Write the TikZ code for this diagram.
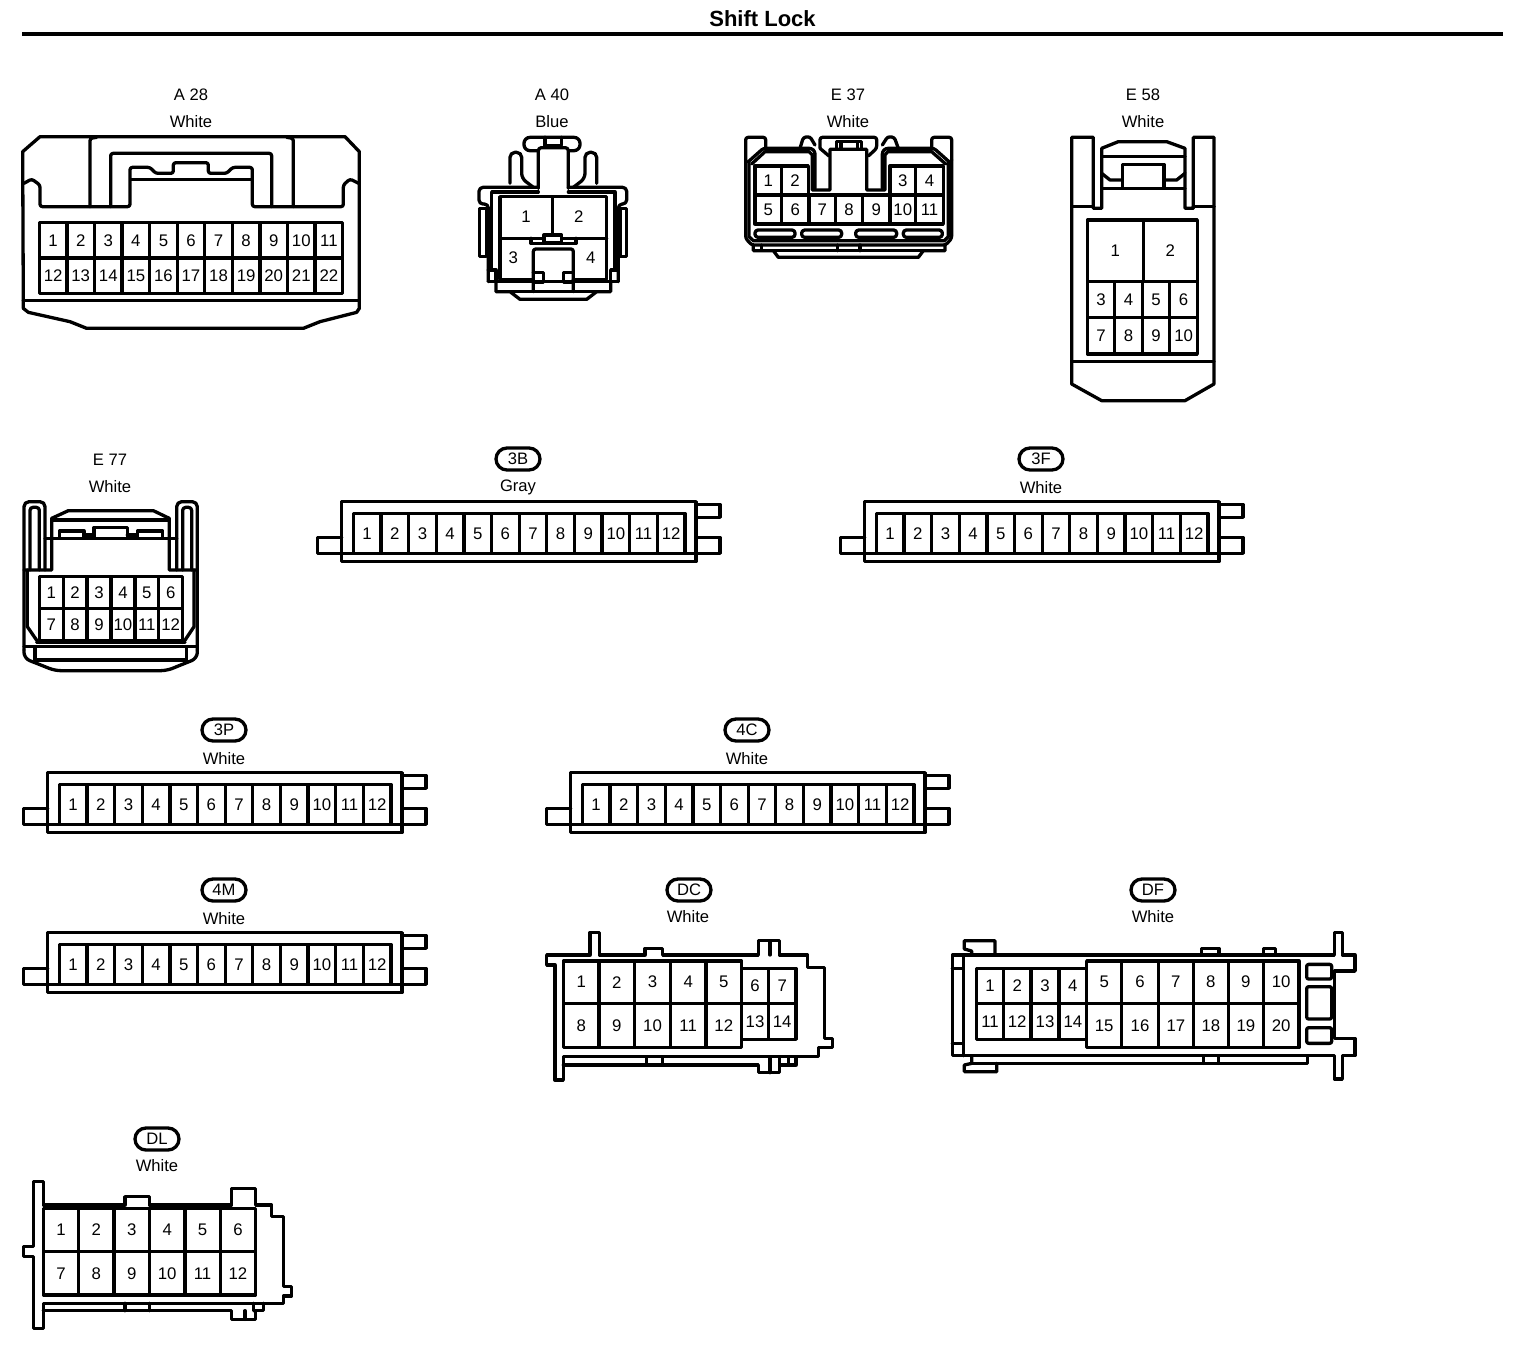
\documentclass[tikz,border=0pt]{standalone}
\usepackage{fontspec}
\setmainfont{Liberation Sans}
\usetikzlibrary{calc,shapes.misc}
\tikzset{
  wire/.style={line width=1.65pt,line join=round,line cap=round},
  soft/.style={wire,rounded corners=1.2pt},
  pinnum/.style={inner sep=0pt,font=\fontsize{8.4}{10}\selectfont},
  lbl/.style={inner sep=0pt,font=\fontsize{8.3}{10}\selectfont},
  pill/.style={draw,rounded rectangle,line width=1.65pt,minimum width=22pt,minimum height=11pt,inner sep=0pt,font=\fontsize{8.3}{10}\selectfont},
}
\newcommand{\pinbox}[6]{%
  \draw[wire] (#2,#3) rectangle (#4,#5);
  \node[pinnum] (#1) at ($(#2,#3)!.5!(#4,#5)$) {#6};}
\newcommand{\pingrid}[8]{%
  \foreach \r in {1,...,#7}{\foreach \c in {1,...,#6}{%
    \pgfmathsetmacro\xa{#2+(\c-1)*(#4-#2)/#6}%
    \pgfmathsetmacro\xb{#2+\c*(#4-#2)/#6}%
    \pgfmathsetmacro\ya{#3+(\r-1)*(#5-#3)/#7}%
    \pgfmathsetmacro\yb{#3+\r*(#5-#3)/#7}%
    \pgfmathtruncatemacro\nn{#8+(\r-1)*#6+\c-1}%
    \pinbox{#1-\nn}{\xa}{\ya}{\xb}{\yb}{\nn}}}}
\newcommand{\twelveway}[5]{%
  \node[pill] (#1-code) at (#2+518,#3+459) {#4};
  \node[lbl] (#1-colour) at (#2+518,#3+487.5) {#5};
  \begin{scope}[shift={(#2+310,#3+445)},scale=1/3]
    \draw[wire] (95,170) rectangle (1158,350);
    \draw[wire] (1158,178)--(1230,178)--(1230,217)--(1158,217);
    \draw[wire] (1158,277)--(1230,277)--(1230,325)--(1125,325);
    \draw[wire] (95,277)--(22,277)--(22,325)--(130,325);
    \pingrid{#1}{130}{205}{1125}{325}{12}{1}{1}
  \end{scope}}
\begin{document}
\begin{tikzpicture}[x=0.5pt,y=-0.5pt]
\useasboundingbox (0,0) rectangle (1536,1346);
\fill[white] (0,0) rectangle (1536,1346);
\node[inner sep=0pt,font=\fontsize{11}{13}\selectfont\bfseries] (title) at (762.5,19) {Shift Lock};
\draw[line width=2.2pt] (22,34)--(1503,34);

% A28
\node[lbl] (A28-code) at (191,95) {A 28};
\node[lbl] (A28-colour) at (191,122) {White};
\begin{scope}[shift={(10,80)},scale=1/3]
  \draw[wire] (38,215)--(90,170)--(1005,170)--(1048,215)--(1048,685)--(1040,697)--(930,725)--(880,745)--(230,745)--(180,725)--(55,697)--(40,685)--cycle;
  \draw[wire] (40,662)--(1048,662);
  \draw[soft] (42,310)--(65,297)--(90,315)--(90,380)--(360,380)--(360,262)--(420,262)--(437,280)--(490,280)--(490,248)--(595,248)--(595,280)--(650,280)--(668,262)--(727,262)--(727,380)--(1000,380)--(1000,315)--(1020,297)--(1046,310);
  \draw[wire] (362,298)--(727,298);
  \draw[soft] (240,380)--(240,175)--(260,172);
  \draw[soft] (850,380)--(850,175)--(830,172);
  \draw[soft] (302,380)--(302,220)--(785,220)--(785,380);
  \pingrid{A28}{88}{428}{998}{640}{11}{2}{1}
\end{scope}

% A40
\node[lbl] (A40-code) at (552,95) {A 40};
\node[lbl] (A40-colour) at (552,122) {Blue};
\begin{scope}[shift={(470,80)},scale=1/3]
  \draw[wire,rounded corners=3pt] (162,172) rectangle (330,212);
  \draw[wire] (225,172)--(225,197)--(275,197)--(275,172);
  \draw[wire,fill=white,rounded corners=1.5pt] (205,325)--(205,203)--(295,203)--(295,325);
  \draw[wire,rounded corners=2.5pt] (120,310)--(120,217)--(155,217)--(155,295)--(190,322);
  \draw[wire,rounded corners=2.5pt] (380,310)--(380,217)--(345,217)--(345,295)--(310,322);
  \draw[wire,rounded corners=2pt] (205,322)--(27,322)--(27,372)--(55,372)--(55,605);
  \draw[wire,rounded corners=2pt] (295,322)--(470,322)--(470,372)--(445,372)--(445,605);
  \draw[wire] (205,336)--(65,336)--(65,570);
  \draw[wire] (295,336)--(435,336)--(435,570);
  \draw[wire] (28,385)--(50,385)--(50,530)--(28,530)--cycle;
  \draw[wire] (450,385)--(470,385)--(470,530)--(450,530)--cycle;
  \draw[wire] (55,570)--(78,570)--(78,605);
  \draw[wire] (445,570)--(422,570)--(422,605);
  \draw[wire] (90,475)--(90,350)--(410,350)--(410,475);
  \draw[wire] (247,350)--(247,465);
  \draw[wire] (90,475)--(222,475);
  \draw[wire] (275,475)--(410,475);
  \draw[wire] (222,465) rectangle (275,488);
  \draw[wire] (183,490)--(318,490);
  \node[pinnum] (A40-1) at (168,410) {1};
  \node[pinnum] (A40-2) at (326,410) {2};
  \node[pinnum] (A40-3) at (130,534) {3};
  \node[pinnum] (A40-4) at (362,534) {4};
  \draw[wire] (183,475)--(183,490);
  \draw[wire] (318,475)--(318,490);
  \draw[wire] (90,475)--(90,598)--(190,598);
  \draw[wire] (410,475)--(410,598)--(310,598);
  \draw[soft] (190,635)--(190,507)--(310,507)--(310,635);
  \draw[wire] (190,578)--(220,578)--(220,608)--(190,608);
  \draw[wire] (310,578)--(280,578)--(280,608)--(310,608);
  \draw[wire] (55,605)--(445,605);
  \draw[wire] (78,605)--(78,635)--(120,635)--(150,658)--(350,658)--(380,635)--(422,635)--(422,605);
  \draw[wire] (80,635)--(420,635);
\end{scope}

% E37
\node[lbl] (E37-code) at (848,95) {E 37};
\node[lbl] (E37-colour) at (848,122) {White};
\begin{scope}[shift={(735,80)},scale=1/3]
  \draw[soft] (32,240)--(32,172)--(92,172)--(92,205);
  \draw[soft] (650,240)--(650,172)--(590,172)--(590,205);
  \draw[soft] (40,245)--(85,205)--(230,205)--(240,215)--(240,325);
  \draw[soft] (642,245)--(597,205)--(452,205)--(442,215)--(442,325);
  \draw[wire] (50,252)--(90,215)--(222,215)--(232,225)--(232,330)--(285,330)--(285,208)--(395,208)--(395,330)--(450,330)--(450,225)--(458,215)--(590,215)--(632,252);
  \draw[soft] (32,240)--(32,475)--(50,495)--(632,495)--(650,475)--(650,240);
  \draw[wire] (42,245)--(42,470)--(55,482)--(628,482)--(640,470)--(640,245);
  \draw[soft] (195,205)--(205,172)--(225,170)--(240,195);
  \draw[soft] (490,205)--(478,172)--(458,170)--(442,195);
  \draw[soft] (255,205)--(255,172)--(425,172)--(425,205)--(400,228);
  \draw[wire] (255,205)--(282,228);
  \draw[wire] (305,208)--(305,185)--(380,185)--(380,208);
  \draw[wire] (318,185)--(318,205);
  \draw[wire] (367,185)--(367,205);
  \pinbox{E37-1}{60}{258}{140}{345}{1}
  \pinbox{E37-2}{140}{258}{220}{345}{2}
  \pinbox{E37-3}{465}{258}{542}{345}{3}
  \pinbox{E37-4}{542}{258}{625}{345}{4}
  \pinbox{E37-5}{60}{345}{140}{432}{5}
  \pinbox{E37-6}{140}{345}{222}{432}{6}
  \pinbox{E37-7}{222}{345}{302}{432}{7}
  \pinbox{E37-8}{302}{345}{382}{432}{8}
  \pinbox{E37-9}{382}{345}{465}{432}{9}
  \pinbox{E37-10}{465}{345}{542}{432}{10}
  \pinbox{E37-11}{542}{345}{625}{432}{11}
  \draw[wire,rounded corners=1.5pt] (60,450) rectangle (180,472);
  \draw[wire,rounded corners=1.5pt] (200,450) rectangle (320,472);
  \draw[wire,rounded corners=1.5pt] (362,450) rectangle (485,472);
  \draw[wire,rounded corners=1.5pt] (505,450) rectangle (622,472);
  \draw[wire] (55,495)--(55,512)--(115,512)--(130,532)--(550,532)--(565,512)--(630,512)--(630,495);
  \draw[wire] (80,495)--(80,512)--(565,512);
  \draw[wire] (308,495)--(308,512);
  \draw[wire] (375,495)--(375,512);
\end{scope}

% E58
\node[lbl] (E58-code) at (1143,95) {E 58};
\node[lbl] (E58-colour) at (1143,122) {White};
\begin{scope}[shift={(1060,80)},scale=1/3]
  \draw[wire] (35,380)--(35,172)--(100,172)--(100,385)--(125,385)--(125,205)--(175,185)--(320,185)--(375,205)--(375,385)--(400,385)--(400,172)--(462,172)--(462,380);
  \draw[wire] (35,380)--(100,380);
  \draw[wire] (400,380)--(462,380);
  \draw[wire] (35,380)--(35,912)--(125,962)--(375,962)--(462,912)--(462,380);
  \draw[wire] (35,845)--(462,845);
  \draw[wire] (125,230)--(375,230);
  \draw[wire] (125,325)--(375,325);
  \draw[wire] (187,325)--(187,253)--(312,253)--(312,325);
  \draw[wire] (125,280)--(150,300)--(187,300);
  \draw[wire] (375,280)--(350,300)--(312,300);
  \pinbox{E58-1}{82}{420}{250}{605}{1}
  \pinbox{E58-2}{250}{420}{412}{605}{2}
  \pingrid{E58}{82}{605}{412}{822}{4}{2}{3}
\end{scope}

% E77
\node[lbl] (E77-code) at (110,460) {E 77};
\node[lbl] (E77-colour) at (110,487) {White};
\begin{scope}[shift={(10,450)},scale=1/3]
  \draw[wire,rounded corners=2.5pt] (42,600)--(42,155)--(105,155)--(105,360);
  \draw[wire,rounded corners=2.5pt] (562,600)--(562,155)--(500,155)--(500,360);
  \draw[wire,rounded corners=1.5pt] (60,360)--(60,172)--(88,172)--(88,360);
  \draw[wire,rounded corners=1.5pt] (545,360)--(545,172)--(518,172)--(518,360);
  \draw[wire] (42,360)--(125,360)--(125,205)--(175,182)--(430,182)--(478,205)--(478,360)--(562,360);
  \draw[wire] (125,210)--(478,210);
  \draw[wire] (105,265)--(500,265);
  \draw[wire] (148,265)--(148,243)--(222,243)--(222,265);
  \draw[wire] (222,255)--(252,255);
  \draw[wire] (252,265)--(252,232)--(352,232)--(352,265);
  \draw[wire] (352,255)--(382,255);
  \draw[wire] (382,265)--(382,243)--(458,243)--(458,265);
  \draw[wire] (52,360)--(52,530)--(85,578);
  \draw[wire] (552,360)--(552,530)--(520,578);
  \draw[wire] (80,578)--(525,578);
  \pingrid{E77}{88}{380}{518}{572}{6}{2}{1}
  \draw[wire] (42,590)--(562,590);
  \draw[wire] (75,590)--(75,630)--(530,630)--(530,590);
  \draw[wire,rounded corners=3pt] (42,600)--(42,625)--(135,662)--(470,662)--(562,625)--(562,600);
\end{scope}

% 12-way connectors
\twelveway{3B}{0}{0}{3B}{Gray}
\twelveway{3F}{523}{0}{3F}{White}
\twelveway{3P}{-294}{271}{3P}{White}
\twelveway{4C}{229}{271}{4C}{White}
\twelveway{4M}{-294}{431}{4M}{White}

% DC
\node[pill] (DC-code) at (689,890) {DC};
\node[lbl] (DC-colour) at (688,917) {White};
\begin{scope}[shift={(540,875)},scale=1/3]
  \draw[wire] (20,270)--(20,240)--(150,240)--(150,172)--(178,172)--(178,240)--(315,240)--(315,220)--(368,220)--(368,240)--(655,240)--(655,197)--(718,197)--(718,240)--(803,240)--(803,278)--(853,278)--(853,490)--(877,490)--(877,518)--(835,518)--(835,545)--(70,545)--(70,615)--(45,615)--(45,270)--cycle;
  \draw[wire] (690,197)--(690,240);
  \draw[wire] (70,570)--(655,570)--(655,593)--(718,593)--(718,570)--(768,570)--(768,545);
  \draw[wire] (690,545)--(690,593);
  \draw[wire] (718,545)--(718,570);
  \draw[wire] (745,545)--(745,570);
  \draw[wire] (320,545)--(320,570);
  \draw[wire] (368,545)--(368,570);
  \pinbox{DC-6}{605}{280}{685}{385}{6}
  \pinbox{DC-7}{685}{280}{768}{385}{7}
  \pinbox{DC-13}{605}{385}{685}{493}{13}
  \pinbox{DC-14}{685}{385}{768}{493}{14}
  \pingrid{DC}{70}{258}{605}{385}{5}{1}{1}
  \pinbox{DC-8}{70}{385}{177}{518}{8}
  \pinbox{DC-9}{177}{385}{284}{518}{9}
  \pinbox{DC-10}{284}{385}{391}{518}{10}
  \pinbox{DC-11}{391}{385}{498}{518}{11}
  \pinbox{DC-12}{498}{385}{605}{518}{12}
\end{scope}

% DF
\node[pill] (DF-code) at (1153,890) {DF};
\node[lbl] (DF-colour) at (1153,917) {White};
\begin{scope}[shift={(945,875)},scale=1/3]
  \draw[wire] (22,240)--(1168,240)--(1168,172)--(1192,172)--(1192,240)--(1230,240)--(1230,288)--(1168,288)--(1168,490)--(1230,490)--(1230,542)--(1192,542)--(1192,612)--(1168,612)--(1168,542)--(22,542)--cycle;
  \draw[wire] (55,240)--(55,542);
  \draw[wire] (22,280)--(55,280);
  \draw[wire] (22,505)--(55,505);
  \draw[wire] (150,240)--(150,197)--(58,197)--(58,222)--(80,228)--(80,240);
  \draw[wire] (80,542)--(80,565)--(58,570)--(58,590)--(155,590)--(155,565);
  \draw[wire] (80,565)--(1088,565)--(1088,542);
  \draw[wire] (770,240)--(770,220)--(822,220)--(822,240);
  \draw[wire] (955,240)--(955,220)--(992,220)--(992,240);
  \draw[wire] (775,542)--(775,565);
  \draw[wire] (820,542)--(820,565);
  \pinbox{DF-1}{95}{280}{175}{385}{1}
  \pinbox{DF-2}{175}{280}{258}{385}{2}
  \pinbox{DF-3}{258}{280}{342}{385}{3}
  \pinbox{DF-4}{342}{280}{425}{385}{4}
  \pinbox{DF-11}{95}{385}{175}{493}{11}
  \pinbox{DF-12}{175}{385}{258}{493}{12}
  \pinbox{DF-13}{258}{385}{342}{493}{13}
  \pinbox{DF-14}{342}{385}{425}{493}{14}
  \pinbox{DF-5}{425}{258}{530}{385}{5}
  \pinbox{DF-6}{530}{258}{640}{385}{6}
  \pinbox{DF-7}{640}{258}{745}{385}{7}
  \pinbox{DF-8}{745}{258}{850}{385}{8}
  \pinbox{DF-9}{850}{258}{955}{385}{9}
  \pinbox{DF-10}{955}{258}{1062}{385}{10}
  \pinbox{DF-15}{425}{385}{530}{518}{15}
  \pinbox{DF-16}{530}{385}{640}{518}{16}
  \pinbox{DF-17}{640}{385}{745}{518}{17}
  \pinbox{DF-18}{745}{385}{850}{518}{18}
  \pinbox{DF-19}{850}{385}{955}{518}{19}
  \pinbox{DF-20}{955}{385}{1062}{518}{20}
  \draw[wire,rounded corners=1pt] (1085,268) rectangle (1160,312);
  \draw[wire,rounded corners=1pt] (1085,335) rectangle (1160,432);
  \draw[wire,rounded corners=1pt] (1085,458) rectangle (1160,505);
\end{scope}

% DL
\node[pill] (DL-code) at (157,1139) {DL};
\node[lbl] (DL-colour) at (157,1166) {White};
\begin{scope}[shift={(15,1120)},scale=1/3]
  \draw[wire] (85,255)--(85,185)--(55,185)--(55,380)--(25,380)--(25,410)--(55,410)--(55,625)--(85,625)--(85,550)--(805,550)--(805,528)--(830,528)--(830,500)--(805,500)--(805,290)--(770,290)--(770,255)--(722,255)--(722,205)--(650,205)--(650,255)--(403,255)--(403,230)--(330,230)--(330,255)--cycle;
  \draw[wire] (85,572)--(650,572)--(650,598)--(722,598)--(722,572)--(745,572)--(745,550);
  \draw[wire] (330,550)--(330,572);
  \draw[wire] (403,550)--(403,572);
  \draw[wire] (690,572)--(690,598);
  \draw[wire] (715,550)--(715,572);
  \pingrid{DL}{85}{265}{722}{525}{6}{2}{1}
\end{scope}
\end{tikzpicture}
\end{document}
